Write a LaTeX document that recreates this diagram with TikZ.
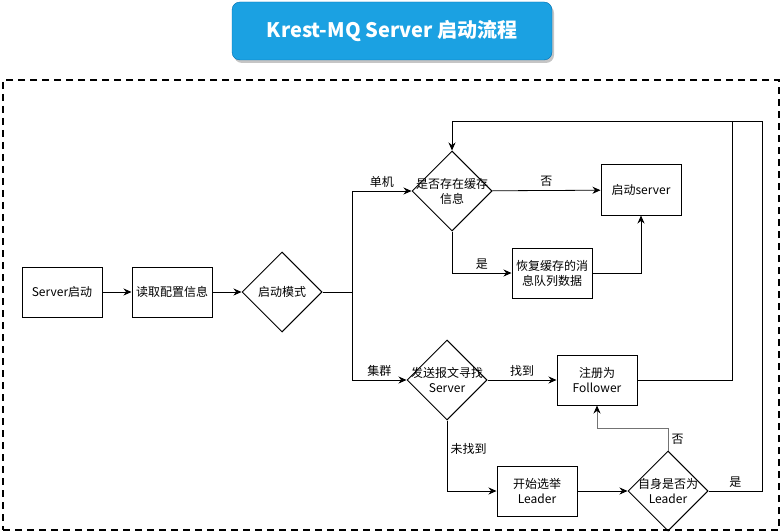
\documentclass[tikz,border=0pt]{standalone}
\usepackage{fontspec}
\setmainfont{Noto Sans CJK SC}
\usetikzlibrary{arrows.meta,shapes.geometric,shadows}
\definecolor{titlefill}{HTML}{1BA1E2}
\definecolor{titleline}{HTML}{006EAF}

\begin{document}
\begin{tikzpicture}[x=1pt, y=-1pt, every node/.style={font=\fontsize{12}{15}\selectfont}, >={Stealth[length=8pt, width=7pt]}, box/.style={draw, line width=1pt, minimum width=80pt, minimum height=50pt, align=center, inner sep=1pt}, dec/.style={draw, line width=1pt, diamond, aspect=1, minimum width=80pt, minimum height=80pt, inner sep=0pt}, txt/.style={align=center, inner sep=0pt}, lab/.style={font=\fontsize{12}{15}\selectfont}, title/.style={draw=titleline, fill=titlefill, rounded corners=8pt, minimum width=320pt, minimum height=58pt, text=white, font=\bfseries\fontsize{20}{24}\selectfont, drop shadow={shadow xshift=2pt, shadow yshift=-3pt, fill=black!45}}, frame/.style={draw, line width=2pt, dash pattern=on 7pt off 5pt, minimum width=776pt, minimum height=450pt}]
	\useasboundingbox (0,0) rectangle (782,532);
	\node[title] (ttl) at (392,31) {Krest-MQ Server 启动流程};
	\node[frame] (frm) at (391,305) {};
	\node[box] (start) at (62,292) {Server启动};
	\node[box] (cfg) at (172,292) {读取配置信息};
	\node[dec] (mode) at (282,292) {};
	\node[txt] (modet) at (mode) {启动模式};
	\node[dec] (cache) at (452,191) {};
	\node[txt] (cachet) at (cache) {是否存在缓存\\信息};
	\node[box] (run) at (641,190) {启动server};
	\node[box] (restore) at (552,273) {恢复缓存的消\\息队列数据};
	\node[dec] (find) at (447,380) {};
	\node[txt] (findt) at (find) {发送报文寻找\\Server};
	\node[box] (follow) at (597,380) {注册为\\Follower};
	\node[box] (elect) at (537,491) {开始选举\\Leader};
	\node[dec] (lead) at (668,491) {};
	\node[txt] (leadt) at (lead) {自身是否为\\Leader};
	\coordinate (fork) at (352,292);
	\coordinate (bend) at (668,428);
	\coordinate (rtop) at (762,121);
	\coordinate (mtop) at (732,121);
	\coordinate (ltop) at (452,121);
	\draw[->, thick] (start) -- (cfg);
	\draw[->, thick] (cfg) -- (mode);
	\draw[thick] (mode) -- (fork);
	\draw[->, thick] (fork) |- node[lab, pos=0.75, above] (single) {单机} (cache);
	\draw[->, thick] (fork) |- node[lab, pos=0.75, above] (cluster) {集群} (find);
	\draw[->, thick] (cache) -- node[lab, above] (no1) {否} (run);
	\draw[->, thick] (cache) |- node[lab, pos=0.75, above] (yes1) {是} (restore);
	\draw[->, thick] (restore) -| (run);
	\draw[->, thick] (find) -- node[lab, above] (found) {找到} (follow);
	\draw[->, thick] (find) |- node[lab, pos=0.2, right] (notfound) {未找到} (elect);
	\draw[->, thick] (elect) -- (lead);
	\draw[-{Stealth[length=8pt, width=7pt, color=black]}, thick, draw=black!55] (lead) -- node[lab, right, text=black] (no2) {否} (bend) -| (follow);
	\draw[thick] (follow) -| (mtop);
	\draw[->, thick] (lead) -| node[lab, pos=0.25, above] (yes2) {是} (rtop) -- (ltop) -- (cache);
\end{tikzpicture}
\end{document}
